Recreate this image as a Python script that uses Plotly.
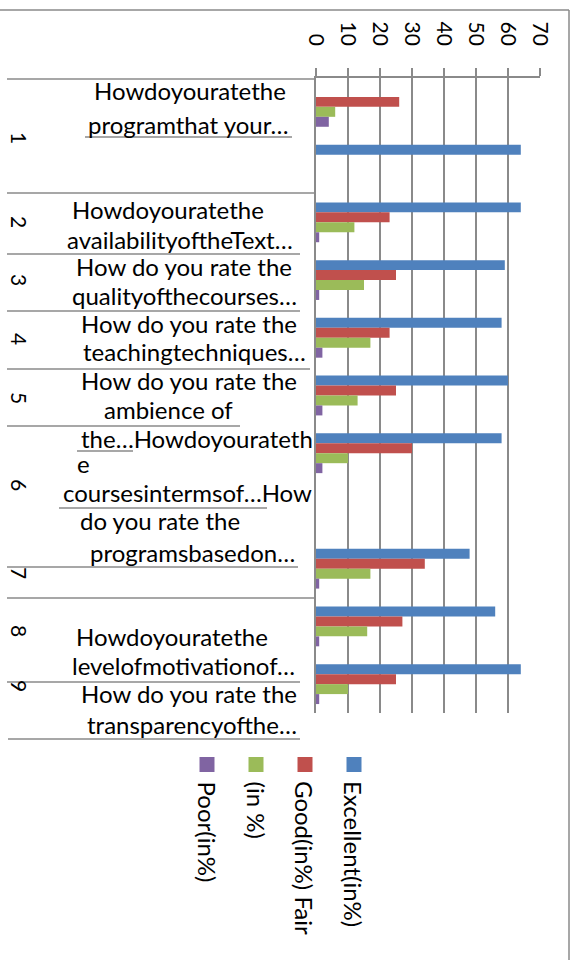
import plotly.graph_objects as go

# ---------------- data ----------------
slots = ["1a", "1b", "2", "3", "4", "5", "6", "gap", "7", "8", "9"]
excellent = [None, 64, 64, 59, 58, 60, 58, None, 48, 56, 64]
good = [26, None, 23, 25, 23, 25, 30, None, 34, 27, 25]
fair = [6, None, 12, 15, 17, 13, 10, None, 17, 16, 10]
poor = [4, None, 1, 1, 2, 2, 2, None, 1, 1, 1]
series_names = ["Excellent(in%)", "Good(in%) Fair", "(in %)", "Poor(in%)"]
x_ticks = [0, 10, 20, 30, 40, 50, 60, 70]
group_numbers = ["1", "2", "3", "4", "5", "6", "7", "8", "9"]
question_lines = [
    "Howdoyouratethe", "programthat your\u2026",
    "Howdoyouratethe", "availabilityoftheText\u2026",
    "How do you rate the", "qualityofthecourses\u2026",
    "How do you rate the", "teachingtechniques\u2026",
    "How do you rate the", "ambience of",
    "the\u2026Howdoyourateth", "e", "coursesintermsof\u2026How",
    "do you rate the", "programsbasedon\u2026",
    "Howdoyouratethe", "levelofmotivationof\u2026",
    "How do you rate the", "transparencyofthe\u2026",
]

# ---------------- styles / layout geometry ----------------
colors = ["#4F81BD", "#C0504D", "#9BBB59", "#8064A2"]
GRID = "#8a8a8a"
FONT = "Lato"
W_FIG, H_FIG = 575, 960
L, R, T, B = 316, 35, 78, 247
PW, PH = W_FIG - L - R, H_FIG - T - B


def px(x):
    return (x - L) / PW


def py(y):
    return (H_FIG - B - y) / PH


fig = go.Figure()
for name, vals, col in zip(series_names, [excellent, good, fair, poor], colors):
    fig.add_trace(go.Bar(
        y=slots, x=vals, name=name, orientation="h",
        marker=dict(color=col, line=dict(width=0)),
        showlegend=False,
    ))

fig.update_layout(
    width=W_FIG, height=H_FIG,
    margin=dict(l=L, r=R, t=T, b=B, pad=0),
    paper_bgcolor="white", plot_bgcolor="white",
    barmode="group", bargap=0.31, bargroupgap=0,
    font=dict(family=FONT, color="black"),
    xaxis=dict(
        side="top", range=[0, 70], tickvals=x_ticks,
        ticktext=[str(v) for v in x_ticks],
        tickangle=90, tickfont=dict(size=21, family=FONT, color="black"),
        ticks="outside", ticklen=8, tickcolor=GRID, tickwidth=1.5,
        showgrid=True, gridcolor=GRID, gridwidth=1.5,
        showline=True, linecolor=GRID, linewidth=1.5,
        zeroline=False, ticklabelstandoff=15,
    ),
    yaxis=dict(
        type="category", categoryorder="array", categoryarray=slots,
        autorange="reversed", showticklabels=False,
        showgrid=False, zeroline=False,
        showline=True, linecolor=GRID, linewidth=1.5, ticks="",
    ),
)

shapes = []
# outer border (top and right edges visible)
shapes.append(dict(type="line", xref="paper", yref="paper",
                   x0=px(0), x1=px(569), y0=py(10), y1=py(10),
                   line=dict(color=GRID, width=1.5)))
shapes.append(dict(type="line", xref="paper", yref="paper",
                   x0=px(569), x1=px(569), y0=py(10), y1=py(962),
                   line=dict(color=GRID, width=1.5)))
# category separators and underlines (x0, x1, y in pixels)
sep_lines = [(7, 316, 79), (7, 316, 193), (85, 292, 137), (7, 300, 254),
             (7, 300, 311), (7, 310, 369), (7, 240, 426), (77, 133, 451),
             (59, 267, 508), (7, 298, 567), (7, 316, 598), (7, 300, 682),
             (8, 300, 739)]
for x0, x1, y in sep_lines:
    shapes.append(dict(type="line", xref="paper", yref="paper",
                       x0=px(x0), x1=px(x1), y0=py(y), y1=py(y),
                       line=dict(color=GRID, width=1.5)))

annotations = []
# group numbers rotated
num_y = [138, 222, 280, 339, 398, 485, 573, 631, 686]
for txt, y in zip(group_numbers, num_y):
    annotations.append(dict(text=txt, x=px(20), y=py(y), xref="paper", yref="paper",
                            showarrow=False, textangle=90,
                            font=dict(size=21, family=FONT, color="black"),
                            xanchor="center", yanchor="middle"))
# question text lines (center x, center y in pixels)
line_pos = [(190, 91), (188.5, 125), (167.5, 209), (180, 239),
            (183.5, 266), (184, 295), (188.5, 323), (194.5, 351),
            (188.5, 381), (168.5, 409), (196.5, 438), (83, 463),
            (187.5, 493), (160, 520), (192, 552), (172, 636),
            (183.5, 665), (188.5, 693), (191.5, 724)]
for txt, (x, y) in zip(question_lines, line_pos):
    annotations.append(dict(text=txt, x=px(x), y=py(y), xref="paper", yref="paper",
                            showarrow=False, borderpad=0,
                            font=dict(size=24, family=FONT, color="black"),
                            xanchor="center", yanchor="middle"))

# legend (rotated), reversed order left -> right
leg_x = [207, 256, 305, 354]
for (name, col), x in zip(list(zip(series_names, colors))[::-1], leg_x):
    shapes.append(dict(type="rect", xref="paper", yref="paper",
                       x0=px(x - 7.5), x1=px(x + 7.5), y0=py(757), y1=py(772),
                       fillcolor=col, line=dict(width=0)))
    annotations.append(dict(text=name, x=px(x), y=py(779), xref="paper", yref="paper",
                            showarrow=False, textangle=90,
                            font=dict(size=24, family=FONT, color="black"),
                            xanchor="center", yanchor="top"))

fig.update_layout(shapes=shapes, annotations=annotations)
fig.write_html("out.html", config={"displayModeBar": False},
               post_script="document.body.style.margin='0';document.body.style.overflow='hidden';")
